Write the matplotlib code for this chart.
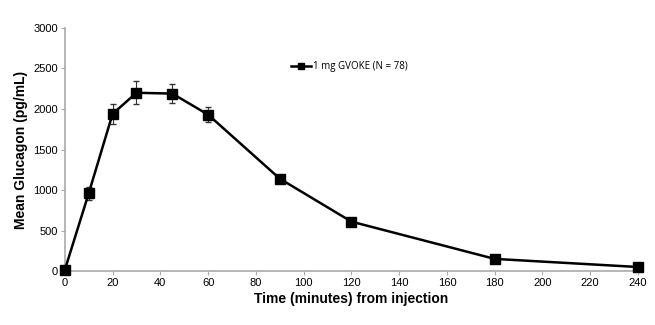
import matplotlib
matplotlib.use("Agg")
import matplotlib.pyplot as plt

time_min = [0, 10, 20, 30, 45, 60, 90, 120, 180, 240]
glucagon = [15, 960, 1940, 2200, 2190, 1930, 1140, 610, 150, 50]
err = [0, 80, 125, 140, 120, 95, 50, 20, 15, 10]
xticks = list(range(0, 241, 20))
yticks = list(range(0, 3001, 500))

plt.rcParams['font.family'] = ['Liberation Sans', 'DejaVu Sans']
fig = plt.figure(figsize=(6.55, 3.25), dpi=100)
ax = fig.add_axes([0.099, 0.166, 0.875, 0.748])
ax.errorbar(time_min, glucagon, yerr=err, fmt='none', ecolor='#333333',
            elinewidth=0.8, capsize=2.5)
ax.plot(time_min, glucagon, color='black', lw=1.8, marker='s',
        markersize=6.5, label='1 mg GVOKE (N = 78)', clip_on=False, zorder=3)
ax.set_xlim(0, 240)
ax.set_ylim(0, 3000)
ax.set_xticks(xticks)
ax.set_yticks(yticks)
ax.tick_params(axis='both', labelsize=8, length=3, color='#aaaaaa', pad=2)
for s in ['top', 'right']:
    ax.spines[s].set_visible(False)
for s in ['left', 'bottom']:
    ax.spines[s].set_color('#aaaaaa')
    ax.spines[s].set_linewidth(1.2)
ax.set_xlabel('Time (minutes) from injection', fontsize=10, fontweight='bold', labelpad=3)
ax.set_ylabel('Mean Glucagon (pg/mL)', fontsize=10, fontweight='bold', labelpad=4)
leg = ax.legend(loc='upper left', bbox_to_anchor=(0.38, 0.9), frameon=False,
                handlelength=2, handletextpad=0.2, markerscale=0.75,
                prop={'family': 'Open Sans', 'size': 7})
fig.savefig('out.png', dpi=100)
